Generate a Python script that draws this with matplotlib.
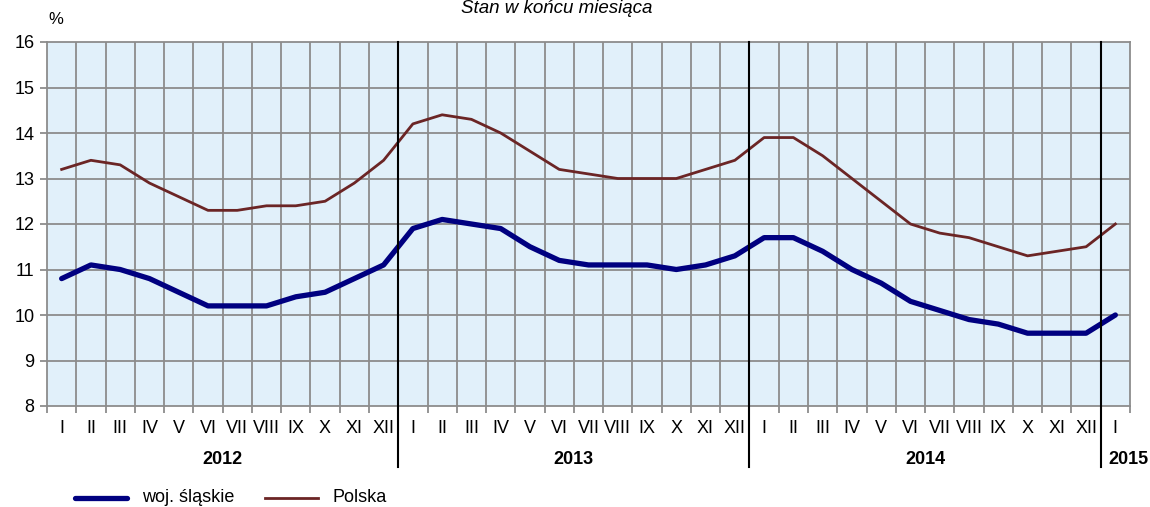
import matplotlib
matplotlib.use("Agg")
import matplotlib.pyplot as plt
from matplotlib.lines import Line2D

plt.rcParams['font.family'] = ['Liberation Sans', 'DejaVu Sans']

months = ["I", "II", "III", "IV", "V", "VI", "VII", "VIII", "IX", "X", "XI", "XII"] * 3 + ["I"]
years = ["2012", "2013", "2014", "2015"]
slaskie = [10.8, 11.1, 11.0, 10.8, 10.5, 10.2, 10.2, 10.2, 10.4, 10.5, 10.8, 11.1,
           11.9, 12.1, 12.0, 11.9, 11.5, 11.2, 11.1, 11.1, 11.1, 11.0, 11.1, 11.3,
           11.7, 11.7, 11.4, 11.0, 10.7, 10.3, 10.1, 9.9, 9.8, 9.6, 9.6, 9.6,
           10.0]
polska = [13.2, 13.4, 13.3, 12.9, 12.6, 12.3, 12.3, 12.4, 12.4, 12.5, 12.9, 13.4,
          14.2, 14.4, 14.3, 14.0, 13.6, 13.2, 13.1, 13.0, 13.0, 13.0, 13.2, 13.4,
          13.9, 13.9, 13.5, 13.0, 12.5, 12.0, 11.8, 11.7, 11.5, 11.3, 11.4, 11.5,
          12.0]

W, H = 1150, 507
fig = plt.figure(figsize=(W / 100, H / 100), dpi=100)
L, R, T, B = 47, 1130, 42, 406
ax = fig.add_axes([L / W, 1 - B / H, (R - L) / W, (B - T) / H])

n = len(months)
ax.set_facecolor('#E1F0FA')
ax.set_xlim(0, n)
ax.set_ylim(8, 16)

grid_c = '#8C8C8C'
for yv in range(9, 16):
    ax.axhline(yv, color=grid_c, lw=1.3, zorder=1)
for xv in range(1, n):
    ax.axvline(xv, color=grid_c, lw=1.3, zorder=1)

for s in ax.spines.values():
    s.set_color(grid_c)
    s.set_linewidth(1.3)

xs = [i + 0.5 for i in range(n)]
ax.plot(xs, polska, color='#6B2525', lw=2.0, zorder=3, solid_joinstyle='round')
ax.plot(xs, slaskie, color='#000080', lw=3.8, zorder=4, solid_capstyle='round', solid_joinstyle='round')

ax.set_yticks(range(8, 17))
ax.set_yticklabels([str(v) for v in range(8, 17)], fontsize=13)
ax.tick_params(axis='y', length=5, color=grid_c, width=1.3, pad=4)

ax.set_xticks(range(0, n + 1))
ax.set_xticklabels([])
ax.tick_params(axis='x', length=5, color=grid_c, width=1.3)
xt = ax.get_xaxis_transform()
for i, m in enumerate(months):
    ax.text(i + 0.5, -0.063, m, transform=xt, ha='center', va='center', fontsize=13)

year_pos = [6, 18, 30, 36.25]
year_ha = ['center', 'center', 'center', 'left']
for y, p, ha in zip(years, year_pos, year_ha):
    ax.text(p, -0.148, y, transform=xt, ha=ha, va='center',
            fontsize=13, fontweight='bold', clip_on=False)

for xv in (12, 24, 36):
    ax.add_line(Line2D([xv, xv], [1.0, -0.168], transform=xt,
                       color='black', lw=1.5, clip_on=False, zorder=5))

fig.text(48 / W, 1 - 20 / H, '%', fontsize=12, ha='left', va='center')
fig.text(557 / W, 1.0, 'Stan w końcu miesiąca', fontsize=13.5, style='italic',
         ha='center', va='top')

# legend
ly = 1 - 498 / H
fig.add_artist(Line2D([75 / W, 127 / W], [ly, ly], color='#000080', lw=3.8, solid_capstyle='round'))
fig.text(142 / W, ly, 'woj. śląskie', fontsize=13, ha='left', va='center')
fig.add_artist(Line2D([265 / W, 318 / W], [ly, ly], color='#6B2525', lw=2.0))
fig.text(333 / W, ly, 'Polska', fontsize=13, ha='left', va='center')

fig.savefig('out.png', dpi=100)
